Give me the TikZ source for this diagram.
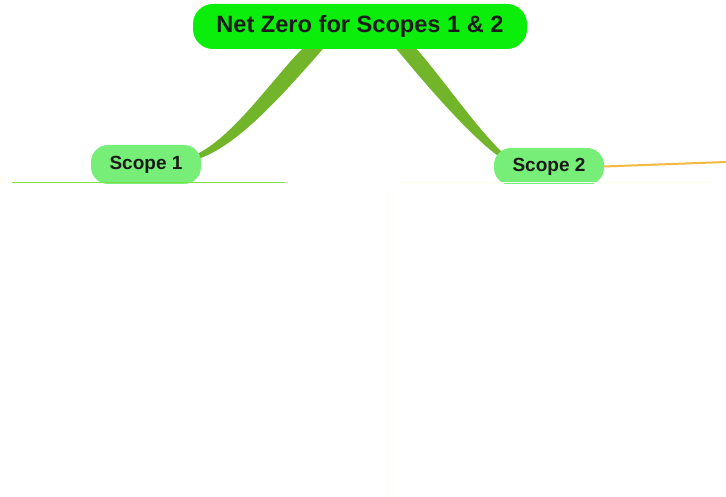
\documentclass[tikz,border=0pt]{standalone}
\usepackage{fontspec}
\setmainfont{Liberation Sans}
\definecolor{rootgreen}{HTML}{0BEE0B}
\definecolor{subgreen}{HTML}{77EE77}
\definecolor{branch}{HTML}{72B52A}
\definecolor{txt}{HTML}{1A1A1A}
\definecolor{orangeline}{HTML}{F5B942}
\definecolor{limeline}{HTML}{7FE04C}
\begin{document}
\begin{tikzpicture}[x=1pt,y=-1pt,
  rootbox/.style={fill=rootgreen,rounded corners=20pt,minimum width=334pt,minimum height=45pt,inner sep=0pt,text=txt,font=\bfseries\fontsize{23.6}{27}\selectfont},
  subbox/.style={fill=subgreen,rounded corners=17pt,minimum width=110pt,inner sep=0pt,text=txt,font=\bfseries\fontsize{19}{22}\selectfont}]
\useasboundingbox[fill=white] (0,0) rectangle (726,497);
% branches (tapered)
\fill[branch] (312,40) .. controls (283,63) and (237,136) .. (195,155)
  -- (198,159) .. controls (244,144) and (300,74) .. (331,40) -- cycle;
\fill[branch] (408,40) .. controls (433,64) and (478,132) .. (506.5,156)
  -- (504,160) .. controls (471,139) and (417,74) .. (389,40) -- cycle;
% nodes
\node[rootbox] (root) at (360,26.5) {Net Zero for Scopes 1 \& 2};
\node[subbox,minimum height=39pt] (s1) at (146,164.5) {Scope 1};
\node[subbox,minimum height=37pt] (s2) at (549,166.5) {Scope 2};
% cut-off region
\fill[white] (0,184) rectangle (726,497);
% lines
\coordinate (oend) at (726,162);
\draw[orangeline,line width=2pt] (s2.east) -- (oend);
\coordinate (gl) at (12,182.5);
\coordinate (gr) at (285,182.5);
\draw[limeline,line width=1.5pt] (gl) -- (gr);
\coordinate (yl) at (400,183);
\coordinate (yr) at (712,183);
\draw[yellow!8,line width=1pt] (yl) -- (yr);
\coordinate (vt) at (388,190);
\coordinate (vb) at (388,497);
\draw[green!4,line width=1pt] (vt) -- (vb);
\end{tikzpicture}
\end{document}
